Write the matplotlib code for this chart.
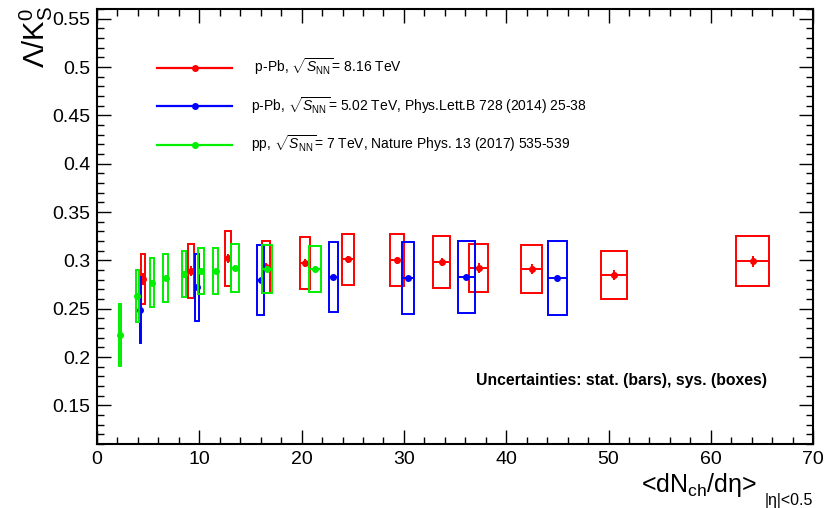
import matplotlib
matplotlib.use('Agg')
import matplotlib.pyplot as plt
from matplotlib.patches import Rectangle
from matplotlib.lines import Line2D
from matplotlib.ticker import MultipleLocator

plt.rcParams['font.family'] = ['Liberation Sans', 'DejaVu Sans']
plt.rcParams['mathtext.fontset'] = 'custom'
plt.rcParams['mathtext.rm'] = 'Liberation Sans'
plt.rcParams['mathtext.it'] = 'Liberation Sans:italic'
plt.rcParams['mathtext.bf'] = 'Liberation Sans:bold'

# p-Pb 8.16 TeV
red_x = [4.5, 9.2, 12.8, 16.5, 20.3, 24.5, 29.3, 33.7, 37.3, 42.5, 50.5, 64.1]
red_xw = [0.17, 0.26, 0.3, 0.4, 0.5, 0.6, 0.7, 0.84, 0.9, 1.04, 1.28, 1.62]
red_y = [0.281, 0.289, 0.302, 0.293, 0.297, 0.301, 0.300, 0.298, 0.292, 0.291, 0.285, 0.299]
red_stat = [0.006, 0.005, 0.005, 0.004, 0.004, 0.004, 0.004, 0.004, 0.005, 0.005, 0.005, 0.006]
red_sys = [0.026, 0.028, 0.028, 0.027, 0.027, 0.026, 0.027, 0.027, 0.025, 0.025, 0.025, 0.026]

# p-Pb 5.02 TeV
blue_x = [4.24, 9.75, 16.0, 23.1, 30.4, 36.1, 45.0]
blue_xw = [0.07, 0.22, 0.35, 0.45, 0.6, 0.8, 0.9]
blue_y = [0.249, 0.272, 0.280, 0.283, 0.282, 0.283, 0.282]
blue_stat = [0.002, 0.002, 0.002, 0.002, 0.002, 0.002, 0.002]
blue_sys = [0.034, 0.035, 0.036, 0.036, 0.037, 0.037, 0.038]

# pp 7 TeV
green_x = [2.26, 3.95, 5.4, 6.7, 8.5, 10.2, 11.6, 13.5, 16.6, 21.3]
green_xw = [0.11, 0.17, 0.18, 0.22, 0.24, 0.3, 0.27, 0.36, 0.46, 0.6]
green_y = [0.223, 0.263, 0.277, 0.282, 0.286, 0.289, 0.289, 0.292, 0.291, 0.291]
green_stat = [0.003, 0.003, 0.003, 0.003, 0.003, 0.003, 0.003, 0.003, 0.003, 0.003]
green_sys = [0.032, 0.027, 0.025, 0.025, 0.024, 0.024, 0.024, 0.025, 0.025, 0.024]

labels = [
    r' p-Pb, $\sqrt{S_{\rm NN}}$= 8.16 TeV',
    r'p-Pb, $\sqrt{S_{\rm NN}}$= 5.02 TeV, Phys.Lett.B 728 (2014) 25-38',
    r'pp, $\sqrt{S_{\rm NN}}$= 7 TeV, Nature Phys. 13 (2017) 535-539',
]
colors = ['#ff0000', '#0000ff', '#00ee00']

fig = plt.figure(figsize=(8.25, 5.08), dpi=100)
ax = fig.add_axes([0.1176, 0.126, 0.868, 0.856])


def draw_set(x, xw, y, stat, sys, color, z):
    for xi, wi, yi, si in zip(x, xw, y, sys):
        ax.add_patch(Rectangle((xi - wi, yi - si), 2 * wi, 2 * si, fill=False,
                               edgecolor=color, linewidth=1.4, zorder=z))
    ax.errorbar(x, y, xerr=xw, yerr=stat, fmt='o', color=color, ms=4,
                elinewidth=1.4, capsize=0, zorder=z + 0.5)


draw_set(red_x, red_xw, red_y, red_stat, red_sys, colors[0], 2)
draw_set(blue_x, blue_xw, blue_y, blue_stat, blue_sys, colors[1], 3)
draw_set(green_x, green_xw, green_y, green_stat, green_sys, colors[2], 4)

ax.set_xlim(0, 70)
ax.set_ylim(0.11, 0.56)
ax.xaxis.set_major_locator(MultipleLocator(10))
ax.xaxis.set_minor_locator(MultipleLocator(2))
ax.yaxis.set_minor_locator(MultipleLocator(0.01))
ax.set_yticks([0.15, 0.2, 0.25, 0.3, 0.35, 0.4, 0.45, 0.5, 0.55])
ax.set_yticklabels(['0.15', '0.2', '0.25', '0.3', '0.35', '0.4', '0.45', '0.5', '0.55'])
ax.tick_params(which='both', direction='in', top=True, right=True, labelsize=14,
               width=1.0, pad=5)
ax.tick_params(which='major', length=10)
ax.tick_params(which='minor', length=5)
for s in ax.spines.values():
    s.set_linewidth(1.5)

fig.text(0.022, 0.988, r'$\Lambda/{\rm K}^{0}_{\rm S}$', rotation=90, fontsize=21,
         ha='left', va='top')
fig.text(0.918, 0.018, '<dN$_{\\rm ch}$/dη>', fontsize=18, ha='right', va='bottom')
fig.text(0.986, 0.0, '|η|<0.5', fontsize=11.5, ha='right', va='bottom')

ax.text(0.936, 0.145, 'Uncertainties: stat. (bars), sys. (boxes)', transform=ax.transAxes,
        fontsize=11.3, fontweight='bold', ha='right', va='center')

handles = [Line2D([], [], color=c, lw=1.6, marker='o', ms=4) for c in colors]
ax.legend(handles, labels, loc='upper left', bbox_to_anchor=(0.084, 0.89),
          frameon=False, fontsize=10, handlelength=5.4, handletextpad=1.35,
          labelspacing=1.3, borderpad=0, borderaxespad=0, numpoints=1)

fig.savefig('out.png', dpi=100)
